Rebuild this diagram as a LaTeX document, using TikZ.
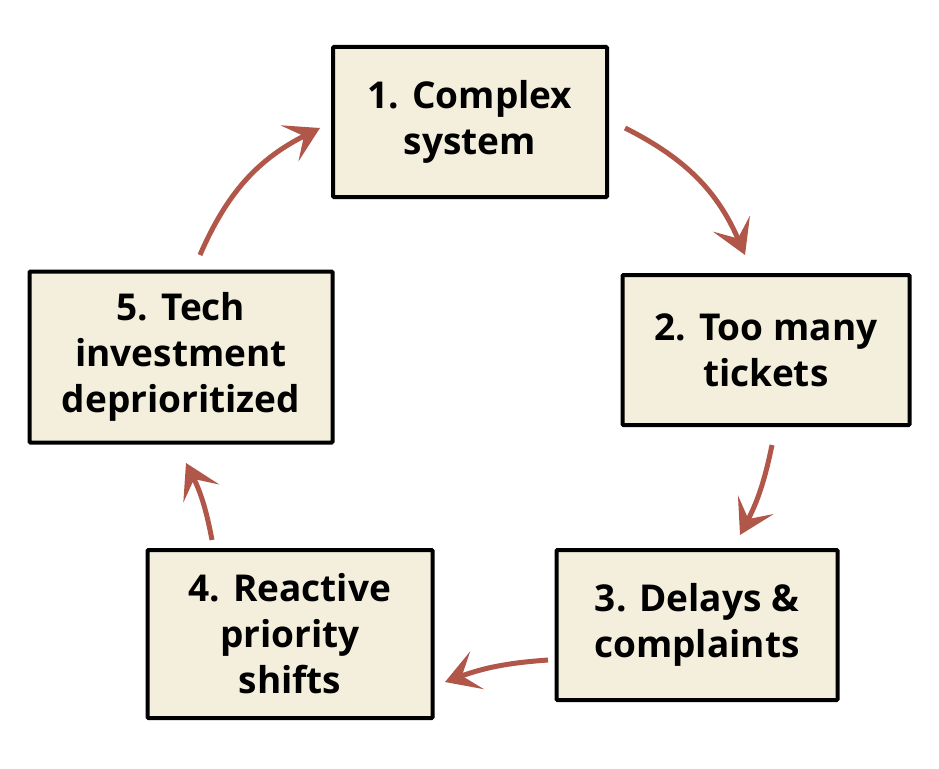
\documentclass[tikz,border=0pt]{standalone}
\usepackage{fontspec}
\setmainfont{Open Sans}
\usetikzlibrary{arrows.meta}
\begin{document}
\begin{tikzpicture}[x=1pt,y=-1pt,
  box/.style={draw=black,line width=4pt,fill=boxfill,rounded corners=1pt,align=center,
    font=\fontsize{37}{46}\selectfont\bfseries},
  arr/.style={draw=arrc,line width=5pt,-{Stealth[length=34pt,width=40pt,inset=16pt]}}]
\definecolor{boxfill}{HTML}{F4EEDC}
\definecolor{arrc}{HTML}{B0574A}
\useasboundingbox (0,0) rectangle (939,768);
\node[box,minimum width=274pt,minimum height=150pt] (b1) at (470,122) {1. Complex\\system};
\node[box,minimum width=287pt,minimum height=150pt] (b2) at (766,350) {2. Too many\\tickets};
\node[box,minimum width=281pt,minimum height=150pt] (b3) at (697,625) {3. Delays \&\\complaints};
\node[box,minimum width=285pt,minimum height=168pt] (b4) at (290,634) {4. Reactive\\priority\\shifts};
\node[box,minimum width=303pt,minimum height=171pt] (b5) at (181,357) {5. Tech\\investment\\deprioritized};
\coordinate (a1s) at (625,128); \coordinate (a1e) at (745,255);
\coordinate (a2s) at (772,445); \coordinate (a2e) at (740,535);
\coordinate (a3s) at (548,660); \coordinate (a3e) at (445,682);
\coordinate (a4s) at (212,540); \coordinate (a4e) at (186,463);
\coordinate (a5s) at (200,255); \coordinate (a5e) at (320,128);
\draw[arr] (a1s) to[bend left=20] (a1e);
\draw[arr] (a2s) to[bend left=8] (a2e);
\draw[arr] (a3s) to[bend right=8] (a3e);
\draw[arr] (a4s) to[bend right=8] (a4e);
\draw[arr] (a5s) to[bend left=20] (a5e);
\end{tikzpicture}
\end{document}
